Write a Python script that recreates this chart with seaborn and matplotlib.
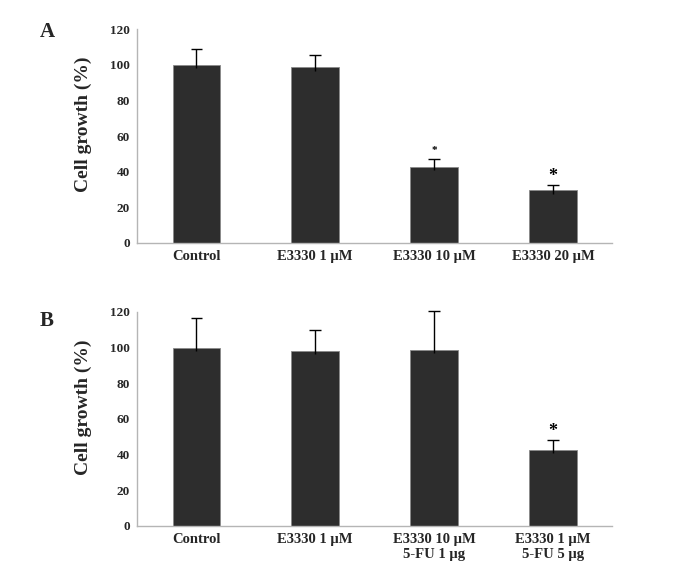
import matplotlib
matplotlib.use('Agg')
import matplotlib.pyplot as plt
import seaborn as sns

# panel A
cats_a = ['Control', 'E3330 1 µM', 'E3330 10 µM', 'E3330 20 µM']
growth_a = [100, 98.5, 42.8, 29.5]
err_a = [9.0, 6.8, 4.3, 3.2]
stars_a = ['', '', '*', '*']

# panel B
cats_b = ['Control', 'E3330 1 µM', 'E3330 10 µM\n5-FU 1 µg', 'E3330 1 µM\n5-FU 5 µg']
growth_b = [99.9, 98.3, 98.8, 42.7]
err_b = [16.9, 11.4, 21.9, 5.6]
stars_b = ['', '', '', '*']

yticks = [0, 20, 40, 60, 80, 100, 120]

sns.set_style('white')
plt.rcParams['font.family'] = ['Liberation Serif', 'DejaVu Serif']
plt.rcParams['font.weight'] = 'bold'

fig = plt.figure(figsize=(6.88, 5.82), dpi=100)
ax_a = fig.add_axes([0.199, 0.5825, 0.691, 0.3675])
ax_b = fig.add_axes([0.199, 0.0967, 0.691, 0.3673])


def draw(ax, cats, vals, errs, stars, star_sizes, letter, letter_y):
    sns.barplot(x=cats, y=vals, color='#2d2d2d', width=0.4, errorbar=None,
                edgecolor='#8a8a8a', linewidth=0.6, saturation=1, ax=ax)
    xs = list(range(len(cats)))
    tops = [v + e for v, e in zip(vals, errs)]
    # one-sided error bars, stem dips a little into the bar
    ax.vlines(xs, [v - 2 for v in vals], tops, color='black', linewidth=1.0,
              clip_on=False, zorder=3)
    ax.hlines(tops, [x - 0.048 for x in xs], [x + 0.048 for x in xs],
              color='black', linewidth=1.0, clip_on=False, zorder=3)
    for x, t, s, fs in zip(xs, tops, stars, star_sizes):
        if s:
            ax.text(x, t + 4.8, s, ha='center', va='center',
                    fontsize=fs, fontweight='bold', color='black')
    ax.set_ylim(0, 120)
    ax.set_xlim(-0.5, len(cats) - 0.5)
    ax.set_yticks(yticks)
    ax.set_yticklabels([str(t) for t in yticks], fontsize=9.5, fontweight='bold')
    ax.tick_params(axis='both', length=0)
    ax.tick_params(axis='y', pad=5)
    ax.tick_params(axis='x', pad=5, labelsize=10.5)
    for lab in ax.get_xticklabels():
        lab.set_fontweight('bold')
        lab.set_linespacing(1.25)
    for side in ['top', 'right']:
        ax.spines[side].set_visible(False)
    for side in ['left', 'bottom']:
        ax.spines[side].set_color('#b5b5b5')
        ax.spines[side].set_linewidth(1.0)
    ax.set_ylabel('Cell growth (%)', fontsize=14, fontweight='bold')
    ax.yaxis.set_label_coords(-0.095, 0.556)
    ax.set_xlabel('')
    ax.text(-0.204, letter_y, letter, transform=ax.transAxes, fontsize=15,
            fontweight='bold', ha='left', va='center')


draw(ax_a, cats_a, growth_a, err_a, stars_a, [8, 0, 8, 13], 'A', 0.986)
draw(ax_b, cats_b, growth_b, err_b, stars_b, [0, 0, 0, 13], 'B', 0.958)

fig.savefig('out.png', dpi=100)
